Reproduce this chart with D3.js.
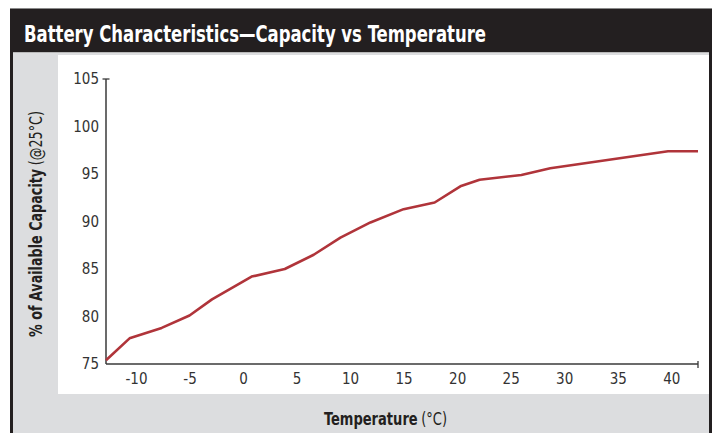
<!DOCTYPE html>
<html>
<head>
<meta charset="utf-8">
<script src="https://cdn.jsdelivr.net/npm/d3@7"></script>
<style>
  html, body { margin: 0; padding: 0; background: #fff; }
  svg { display: block; }
  text { font-family: "Liberation Sans Narrow", "DejaVu Sans Condensed", "Roboto Condensed", sans-serif; }
</style>
</head>
<body>
<svg id="chart" width="715" height="433"></svg>
<script>
const temperatures = [-12.8, -10.6, -7.6, -5.0, -2.9, 0.8, 3.9, 6.6, 9.1, 11.9, 15.0, 17.9, 20.3, 22.1, 26.0, 28.7, 39.7, 42.5];
const capacity     = [75.4, 77.7, 78.8, 80.1, 81.8, 84.2, 85.0, 86.5, 88.3, 89.9, 91.3, 92.0, 93.7, 94.4, 94.9, 95.6, 97.4, 97.4];
const xTicks = [-10, -5, 0, 5, 10, 15, 20, 25, 30, 35, 40];
const yTicks = [75, 80, 85, 90, 95, 100, 105];
const title = "Battery Characteristics\u2014Capacity vs Temperature";
const xLabelBold = "Temperature", xLabelNorm = "(\u00B0C)";
const yLabelBold = "% of Available Capacity", yLabelNorm = "(@25\u00B0C)";

const svg = d3.select("#chart");
const dark = "#231f20", gray = "#dcdddf";

// frame
svg.append("rect").attr("x", 10).attr("y", 8).attr("width", 702).attr("height", 425).attr("fill", dark);
svg.append("rect").attr("x", 13).attr("y", 52).attr("width", 696).attr("height", 381).attr("fill", gray);
svg.append("line").attr("x1", 10).attr("x2", 712).attr("y1", 8.5).attr("y2", 8.5).attr("stroke", "#8a8a8a").attr("stroke-width", 1);
svg.append("line").attr("x1", 13).attr("x2", 709).attr("y1", 52.5).attr("y2", 52.5).attr("stroke", "#b9b9b9").attr("stroke-width", 1);
svg.append("rect").attr("x", 58).attr("y", 55).attr("width", 651).attr("height", 339).attr("fill", "#fff");

svg.append("text").attr("x", 24).attr("y", 42).attr("fill", "#fff")
  .attr("font-size", 23).attr("font-weight", "bold")
  .attr("textLength", 462).attr("lengthAdjust", "spacingAndGlyphs")
  .text(title);

const x = d3.scaleLinear().domain([-12.8, 42.5]).range([106, 698]);
const y = d3.scaleLinear().domain([75, 105]).range([364, 79]);

const axisColor = "#3a3a3a";
const fmt = d => String(d);
// x axis
const gx = svg.append("g").attr("transform", "translate(0,364)")
  .call(d3.axisBottom(x).tickValues(xTicks).tickSize(0).tickPadding(9).tickFormat(fmt));
gx.select(".domain").remove();
gx.selectAll("text").attr("font-size", 15).attr("fill", "#333").attr("font-family", null);
svg.append("line").attr("x1", 106).attr("x2", 698).attr("y1", 364).attr("y2", 364).attr("stroke", axisColor).attr("stroke-width", 1.5);
svg.append("line").attr("x1", 698).attr("x2", 698).attr("y1", 361).attr("y2", 368).attr("stroke", axisColor).attr("stroke-width", 1.3);

// y axis
const gy = svg.append("g").attr("transform", "translate(106,0)")
  .call(d3.axisLeft(y).tickValues(yTicks).tickSize(0).tickPadding(7).tickFormat(fmt));
gy.select(".domain").remove();
gy.selectAll("text").attr("font-size", 15).attr("fill", "#333").attr("font-family", null);
svg.append("line").attr("x1", 106).attr("x2", 106).attr("y1", 79).attr("y2", 364).attr("stroke", axisColor).attr("stroke-width", 1.5);
svg.append("line").attr("x1", 102.5).attr("x2", 109.5).attr("y1", 79).attr("y2", 79).attr("stroke", axisColor).attr("stroke-width", 1.3);

// line
const data = temperatures.map((t, i) => ({ t, c: capacity[i] }));
svg.append("path").datum(data)
  .attr("fill", "none").attr("stroke", "#b0343a").attr("stroke-width", 2.6)
  .attr("stroke-linejoin", "round")
  .attr("d", d3.line().x(d => x(d.t)).y(d => y(d.c)));

// two-part label fitted to a target span by a horizontal squeeze
function twoPartLabel(outer, boldText, normText, start, total, size) {
  const gap = 4;
  const g = outer.append("g");
  const b = g.append("text").attr("y", 0).attr("font-size", size).attr("font-weight", "bold").attr("fill", dark).text(boldText);
  const n = g.append("text").attr("y", 0).attr("font-size", size).attr("fill", dark).text(normText);
  const bw = b.node().getComputedTextLength();
  const nw = n.node().getComputedTextLength();
  const k = (total) / (bw + gap + nw);
  b.attr("x", 0);
  n.attr("x", bw + gap);
  g.attr("transform", `translate(${start},0) scale(${k},1)`);
}
twoPartLabel(svg.append("g").attr("transform", "translate(0,425)"), xLabelBold, xLabelNorm, 324, 123, 17);
twoPartLabel(svg.append("g").attr("transform", "translate(42,0) rotate(-90)"), yLabelBold, yLabelNorm, -337, 226, 17);
</script>
</body>
</html>
